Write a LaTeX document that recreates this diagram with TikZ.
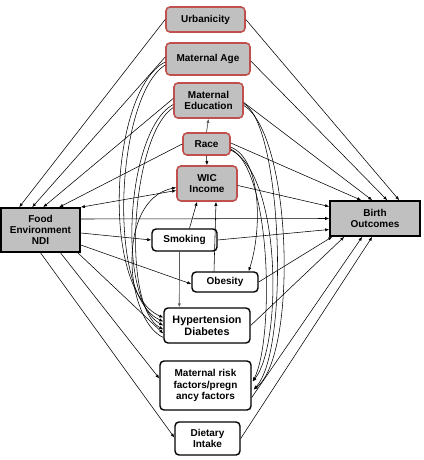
\documentclass[tikz,border=0pt]{standalone}
\usepackage{fontspec}
\setmainfont{Liberation Sans}
\usetikzlibrary{arrows.meta,calc}
\definecolor{confred}{RGB}{192,80,77}
\definecolor{boxgray}{RGB}{192,192,192}
\begin{document}
\begin{tikzpicture}[x=1pt,y=-1pt,
  every node/.style={font=\bfseries\fontsize{10}{11.2}\selectfont, align=center, inner sep=1pt},
  conf/.style={draw=confred, line width=1.6pt, fill=boxgray, rounded corners=4pt},
  mainbox/.style={draw=black, line width=1.6pt, fill=boxgray},
  med/.style={draw=black, line width=1.4pt, fill=white, rounded corners=4pt},
  arr/.style={-{Latex[length=4pt,width=3.2pt]}, line width=0.55pt},
  biarr/.style={{Latex[length=4pt,width=3.2pt]}-{Latex[length=4pt,width=3.2pt]}, line width=0.55pt},
  grayarr/.style={arr, draw=black!65, fill=black!65, line width=0.7pt}
]
\useasboundingbox (0,0) rectangle (423,460);
% nodes
\node[conf, minimum width=79pt, minimum height=25pt] (urb) at (205.5,19.5) {Urbanicity};
\node[conf, minimum width=84pt, minimum height=32pt] (age) at (208,59) {Maternal Age};
\node[conf, minimum width=69pt, minimum height=35pt] (edu) at (208.5,100.5) {Maternal\\Education};
\node[conf, minimum width=47pt, minimum height=22pt] (race) at (206.5,144) {Race};
\node[conf, minimum width=60pt, minimum height=35pt] (wic) at (207,183.5) {WIC\\Income};
\node[mainbox, minimum width=79pt, minimum height=44pt] (fe) at (40.5,230) {Food\\Environment\\NDI};
\node[mainbox, minimum width=90pt, minimum height=35pt] (bo) at (375,218.5) {Birth\\Outcomes};
\node[med, minimum width=65pt, minimum height=22pt] (smk) at (184.5,240) {Smoking};
\node[med, minimum width=66pt, minimum height=20pt] (obe) at (225,282) {Obesity};
\node[med, minimum width=86pt, minimum height=35pt, font=\bfseries\fontsize{10.8}{12}\selectfont] (hd) at (207,325.5) {Hypertension\\Diabetes};
\node[med, minimum width=91pt, minimum height=49pt] (mr) at (205.5,385.5) {Maternal risk\\factors/pregn\\ancy factors};
\node[med, minimum width=65pt, minimum height=33pt] (di) at (207.5,438.5) {Dietary\\Intake};

% confounders -> FE
\draw[arr] (urb.west) -- ($(fe.north west)+(19,0)$);
\draw[arr] ($(age.west)+(0,-2)$) -- ($(fe.north west)+(32,0)$);
\draw[arr] ($(edu.west)+(0,-2)$) -- ($(fe.north west)+(43,0)$);
\draw[arr] (race.west) -- ($(fe.north west)+(59,0)$);
\draw[biarr] ($(wic.west)+(0,7)$) -- (fe.north east);

% confounders -> BO
\draw[arr] (urb.east) -- ($(bo.north west)+(70,0)$);
\draw[arr] ($(age.east)+(0,2)$) -- ($(bo.north west)+(58,0)$);
\draw[arr] ($(edu.east)+(0,2)$) -- ($(bo.north west)+(43,0)$);
\draw[arr] ($(race.east)+(0,-1)$) -- ($(bo.north west)+(32,0)$);
\draw[arr] ($(wic.east)+(0,2)$) -- ($(bo.west)+(0,-12)$);

% FE -> BO and mediators -> BO
\draw[arr] ($(fe.east)+(0,-11)$) -- (bo.west);
\draw[arr] (smk.east) -- ($(bo.west)+(0,11)$);
\draw[arr] (obe.east) -- ($(bo.south west)+(3,0)$);
\draw[arr] (hd.east) -- ($(bo.south west)+(15,0)$);
\draw[arr] ($(mr.east)+(0,12)$) -- ($(bo.south west)+(33,0)$);
\draw[arr] (di.east) -- ($(bo.south west)+(43,0)$);

% FE -> mediators
\draw[arr] ($(fe.east)+(0,3)$) -- (smk.west);
\draw[arr] ($(fe.east)+(0,15)$) -- ($(obe.west)+(0,2)$);
\draw[arr] ($(fe.south east)+(-3,0)$) -- ($(hd.west)+(0,8)$);
\draw[arr] ($(fe.south)+(20,0)$) -- ($(mr.west)+(0,-7)$);
\draw[arr] (fe.south) -- ($(di.west)+(0,-1)$);

% vertical links
\draw[grayarr] (race.north) -- (edu.south);
\draw[arr] (race.south) -- (wic.north);
\draw[arr] ($(smk.north)+(5,0)$) -- ($(wic.south)+(-10,0)$);
\draw[arr] ($(obe.north)+(-11,0)$) -- ($(wic.south)+(9,0)$);
\draw[grayarr] ($(smk.south)+(-5,0)$) -- ($(hd.north west)+(16,0)$);

% left curves into HD
\draw[arr] ($(age.west)+(0,3)$) .. controls (110,90) and (100,290) .. ($(hd.west)+(0,-8)$);
\draw[arr] ($(age.west)+(0,6)$) .. controls (116,96) and (106,296) .. ($(hd.west)+(0,-4)$);
\draw[arr] ($(edu.west)+(0,4)$) .. controls (126,130) and (116,300) .. ($(hd.west)+(0,0)$);
\draw[arr] ($(edu.west)+(0,7)$) .. controls (131,136) and (121,306) .. ($(hd.west)+(0,4)$);
\draw[arr] ($(hd.west)+(0,12)$) .. controls (125,320) and (115,200) .. ($(wic.west)+(0,4)$);

% right curves
\draw[arr] ($(race.east)+(0,3)$) .. controls (262,160) and (262,230) .. ($(obe.north east)+(-10,0)$);
\draw[arr] ($(race.east)+(0,5)$) .. controls (272,170) and (274,340) .. ($(mr.east)+(1,-4)$);
\draw[arr] ($(race.east)+(0,6)$) .. controls (282,175) and (282,345) .. ($(mr.east)+(1,-4)$);
\draw[arr] ($(edu.east)+(0,3)$) .. controls (282,125) and (290,350) .. ($(mr.east)+(2,4)$);
\draw[arr] ($(edu.east)+(0,5)$) .. controls (292,135) and (298,355) .. ($(mr.east)+(2,4)$);
\end{tikzpicture}
\end{document}
